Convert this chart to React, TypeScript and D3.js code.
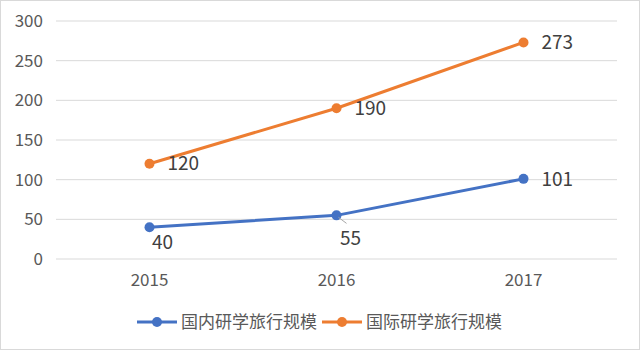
import React, { useEffect, useRef } from 'react';
import * as d3 from 'd3';

const years = ['2015', '2016', '2017'];
const domestic = [40, 55, 101];
const international = [120, 190, 273];
const yTicks = [0, 50, 100, 150, 200, 250, 300];
const seriesNames = ['国内研学旅行规模', '国际研学旅行规模'];
const seriesColors = ['#4472C4', '#ED7D31'];

const FONT = '"Noto Sans CJK SC", "Noto Sans", sans-serif';

export default function App() {
  const svgRef = useRef<SVGSVGElement | null>(null);

  useEffect(() => {
    const width = 640;
    const height = 351;
    const margin = { top: 21, right: 23, bottom: 92, left: 56 };
    const innerW = width - margin.left - margin.right;
    const innerH = height - margin.top - margin.bottom;

    const svg = d3.select(svgRef.current).attr('width', width).attr('height', height);
    svg.selectAll('*').remove();

    svg.append('rect').attr('x', 0.5).attr('y', 0.5).attr('width', width - 1).attr('height', height - 2)
      .attr('fill', '#fff').attr('stroke', '#d9d9d9');

    const g = svg.append('g').attr('transform', `translate(${margin.left},${margin.top})`);

    const x = d3.scaleBand().domain(years).range([0, innerW]);
    const cx = (d: string) => (x(d) as number) + x.bandwidth() / 2;
    const y = d3.scaleLinear().domain([0, 300]).range([innerH, 0]);

    // Grid
    g.append('g').selectAll('line').data(yTicks).join('line')
      .attr('x1', 0).attr('x2', innerW).attr('y1', d => y(d)).attr('y2', d => y(d))
      .attr('stroke', '#d9d9d9').attr('stroke-width', 1);

    // Y tick labels
    g.append('g').selectAll('text').data(yTicks).join('text')
      .attr('x', -13).attr('y', d => y(d)).attr('dy', '0.35em').attr('text-anchor', 'end')
      .attr('fill', '#595959').attr('font-size', '17px').attr('font-family', FONT)
      .text(d => d);

    // X tick labels
    g.append('g').selectAll('text').data(years).join('text')
      .attr('x', d => cx(d)).attr('y', innerH + 21).attr('dy', '0.35em').attr('text-anchor', 'middle')
      .attr('fill', '#595959').attr('font-size', '17px').attr('font-family', FONT)
      .text(d => d);

    const series = [domestic, international];
    const line = d3.line<number>().x((_, i) => cx(years[i])).y(d => y(d));

    series.forEach((vals, s) => {
      g.append('path').datum(vals).attr('fill', 'none').attr('stroke', seriesColors[s])
        .attr('stroke-width', 3).attr('stroke-linejoin', 'round').attr('d', line);
      g.append('g').selectAll('circle').data(vals).join('circle')
        .attr('cx', (_, i) => cx(years[i])).attr('cy', d => y(d)).attr('r', 5)
        .attr('fill', seriesColors[s]);
    });

    // Data labels
    const labelOffsets: Record<string, [number, number, string]> = {
      '0-0': [13, 15, 'middle'],
      '0-1': [14, 23, 'middle'],
      '0-2': [18, 0, 'start'],
      '1-0': [18, 0, 'start'],
      '1-1': [18, 0, 'start'],
      '1-2': [18, 0, 'start'],
    };
    series.forEach((vals, s) => {
      vals.forEach((v, i) => {
        const [dx, dy, anchor] = labelOffsets[`${s}-${i}`];
        const px = cx(years[i]);
        const py = y(v);
        if (s === 0 && i === 1) {
          g.append('line').attr('x1', px + 2).attr('y1', py + 2).attr('x2', px + 10).attr('y2', py + 8)
            .attr('stroke', '#a6a6a6').attr('stroke-width', 1);
        }
        g.append('text').attr('x', px + dx).attr('y', py + dy).attr('dy', '0.35em')
          .attr('text-anchor', anchor).attr('fill', '#404040').attr('font-size', '19px')
          .attr('font-family', FONT).text(v);
      });
    });

    // Legend
    const legendY = 322;
    const legendX = [137, 322];
    seriesNames.forEach((name, s) => {
      const lg = svg.append('g').attr('transform', `translate(${legendX[s]},${legendY})`);
      lg.append('line').attr('x1', 0).attr('x2', 40).attr('y1', 0).attr('y2', 0)
        .attr('stroke', seriesColors[s]).attr('stroke-width', 3);
      lg.append('circle').attr('cx', 20).attr('cy', 0).attr('r', 5).attr('fill', seriesColors[s]);
      lg.append('text').attr('x', 44).attr('y', 0).attr('dy', '0.35em')
        .attr('fill', '#595959').attr('font-size', '17px').attr('font-family', FONT).text(name);
    });
  }, []);

  return (
    <div style={{ position: 'absolute', left: 0, top: 0 }}>
      <svg ref={svgRef} style={{ display: 'block' }} />
    </div>
  );
}
